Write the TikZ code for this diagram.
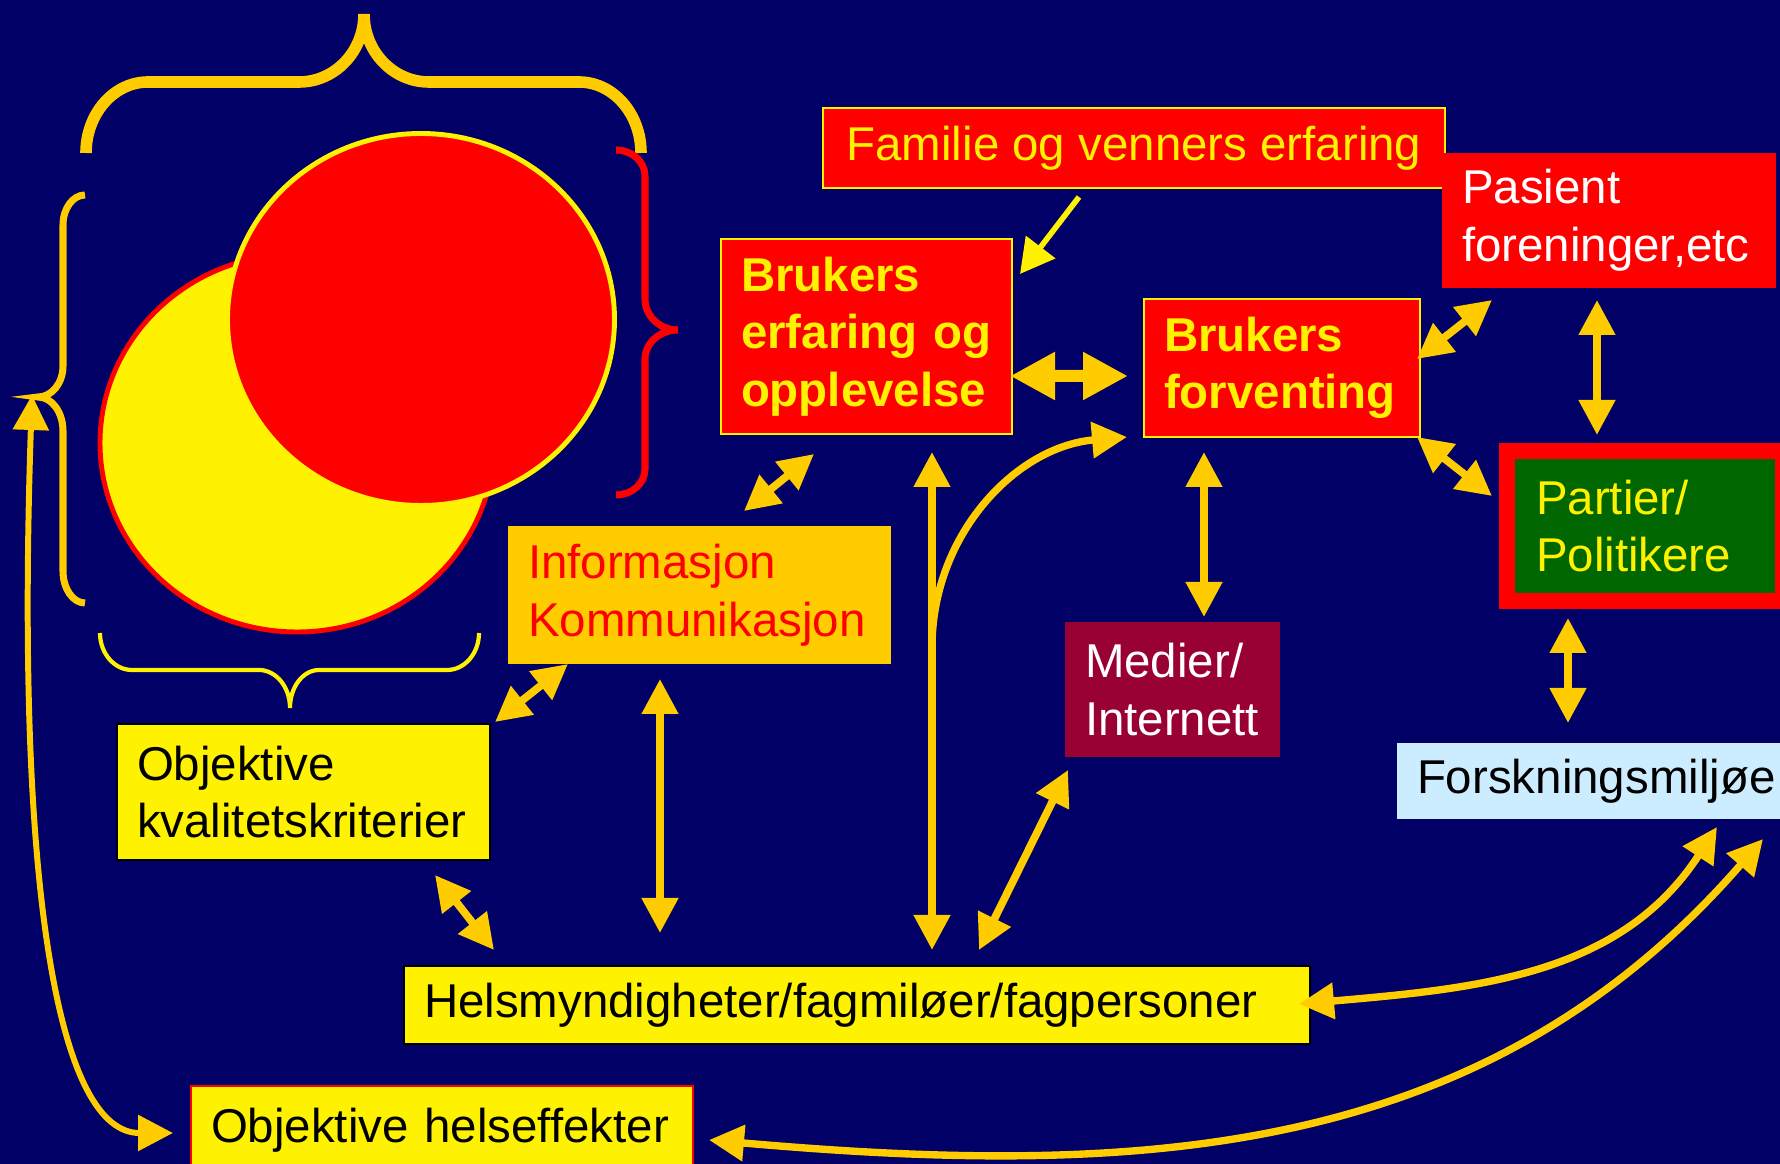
\documentclass[tikz,border=0pt]{standalone}
\usepackage{fontspec}
\setsansfont{Liberation Sans}
\RequirePackage{xcolor}
\definecolor{slidenavy}{RGB}{0,0,102}
\definecolor{slidegold}{RGB}{255,204,0}
\definecolor{partigreen}{RGB}{0,102,0}
\definecolor{mediawine}{RGB}{153,0,51}
\definecolor{forskblue}{RGB}{204,236,255}
\tikzset{every picture/.style={/utils/exec={\sffamily}}}
\usetikzlibrary{arrows.meta}
\tikzset{
  boxnode/.style={anchor=north west, outer sep=0pt, inner xsep=0.2cm, inner ysep=0pt, align=left, font=\fontsize{13.5}{16.4}\selectfont},
  boldbox/.style={boxnode, font=\fontsize{13.5}{16.4}\selectfont\bfseries},
  twoway/.style={draw=slidegold, line width=2.2pt, {Triangle[length=3.5mm,width=3.5mm]}-{Triangle[length=3.5mm,width=3.5mm]}},
  fatway/.style={draw=slidegold, line width=0.12cm, {Triangle[length=4.5mm,width=4.5mm]}-{Triangle[length=4.5mm,width=4.5mm]}},
}

\begin{document}
\begin{tikzpicture}
  \useasboundingbox (0,0) rectangle (17.8,-11.64);
  \fill [slidenavy] (0,0) rectangle (17.8,-11.64);

  \draw [fill=yellow, draw=red, line width=1.4pt] (2.97,-4.43) ellipse [x radius=1.97, y radius=1.89];
  \draw [fill=red, draw=yellow, line width=1.4pt] (4.21,-3.195) ellipse [x radius=1.935, y radius=1.86];

  % braces
  \draw [slidegold, line width=3.3pt] (0.86,-1.53) arc [start angle=180, end angle=90, x radius=0.62, y radius=0.71] -- (2.99,-0.82) arc [start angle=270, end angle=360, x radius=0.65, y radius=0.68] arc [start angle=180, end angle=270, x radius=0.65, y radius=0.68] -- (5.79,-0.82) arc [start angle=90, end angle=0, x radius=0.62, y radius=0.71];
  \draw [slidegold, line width=2pt] (0.85,-1.95) arc [start angle=90, end angle=180, x radius=0.22, y radius=0.30] -- (0.63,-3.66) arc [start angle=0, end angle=-90, x radius=0.25, y radius=0.31] coordinate (ltip) arc [start angle=90, end angle=0, x radius=0.25, y radius=0.34] -- (0.63,-5.71) arc [start angle=180, end angle=270, x radius=0.22, y radius=0.32];
  \draw [red, line width=2pt] (6.16,-1.50) arc [start angle=90, end angle=0, x radius=0.29, y radius=0.26] -- (6.45,-2.99) arc [start angle=180, end angle=270, x radius=0.33, y radius=0.31] arc [start angle=90, end angle=180, x radius=0.33, y radius=0.29] -- (6.45,-4.69) arc [start angle=0, end angle=-90, x radius=0.29, y radius=0.26];
  \draw [yellow, line width=1.2pt] (1.00,-6.33) arc [start angle=180, end angle=270, x radius=0.32, y radius=0.37] -- (2.59,-6.70) arc [start angle=90, end angle=0, x radius=0.31, y radius=0.38] arc [start angle=180, end angle=90, x radius=0.29, y radius=0.38] -- (4.47,-6.70) arc [start angle=270, end angle=360, x radius=0.32, y radius=0.37];

  \node [boxnode, fill=red, draw=yellow, line width=0.6pt, text=yellow, align=center, minimum width=6.22cm, minimum height=0.80cm] (familie) at (8.23,-1.08) {Familie og venners erfaring};
  \node [boxnode, fill=red, text=white, text width=2.94cm, minimum height=1.35cm] (pasient) at (14.42,-1.53) {Pasient\\ foreninger,etc};
  \node [boldbox, fill=red, draw=yellow, line width=0.6pt, text=yellow, text width=2.51cm, minimum height=1.95cm] (erfaring) at (7.21,-2.39) {Brukers\\ erfaring og\\ opplevelse};
  \node [boldbox, fill=red, draw=yellow, line width=0.6pt, text=yellow, text width=2.36cm, minimum height=1.38cm] (forventing) at (11.44,-2.99) {Brukers\\ forventing};
  \node [boxnode, fill=partigreen, draw=red, line width=0.16cm, text=yellow, inner xsep=0.29cm, text width=2.18cm, minimum height=1.50cm] (partier) at (15.07,-4.51) {Partier/\\ Politikere};
  \node [boxnode, fill=slidegold, text=red, text width=3.43cm, minimum height=1.38cm] (informasjon) at (5.08,-5.26) {Informasjon\\ Kommunikasjon};
  \node [boxnode, fill=mediawine, text=white, text width=1.75cm, minimum height=1.35cm] (medier) at (10.65,-6.22) {Medier/\\ Internett};
  \node [boxnode, fill=forskblue, text=black, text width=3.65cm, minimum height=0.76cm] (forsk) at (13.97,-7.43) {Forskningsmiljøe};
  \node [boxnode, fill=yellow, draw=black, line width=0.6pt, text=black, text width=3.33cm, minimum height=1.36cm] (kvalitet) at (1.17,-7.24) {Objektive\\ kvalitetskriterier};
  \node [boxnode, fill=yellow, draw=black, line width=0.6pt, text=black, text width=8.66cm, minimum height=0.78cm] (helsmyn) at (4.04,-9.66) {Helsmyndigheter/fagmiløer/fagpersoner};
  \node [boxnode, fill=yellow, draw=red, line width=0.6pt, text=black, text width=4.62cm, minimum height=0.89cm] (helseff) at (1.91,-10.86) {Objektive helseffekter};

  \coordinate (fork) at (9.32,-6.47);

  \draw [yellow, line width=1.6pt, -{Triangle[length=3.4mm,width=3.6mm]}] ([shift={(-0.55,-0.09)}]familie.south) -- ([shift={(0.08,-0.35)}]erfaring.north east);
  \draw [fatway] ([shift={(-0.02,-0.395)}]erfaring.east) -- ([shift={(-0.16,-0.08)}]forventing.west);
  \draw [twoway] ([shift={(-0.03,-0.60)}]forventing.north east) -- ([shift={(0.50,-0.12)}]pasient.south west);
  \draw [twoway] ([shift={(-0.12,-0.12)}]pasient.south) -- ([shift={(-0.48,0.16)}]partier.north);
  \draw [twoway] ([shift={(-0.03,0)}]forventing.south east) -- ([shift={(-0.15,0.30)}]partier.west);
  \draw [twoway] ([shift={(-0.78,-0.15)}]forventing.south) -- ([shift={(0.315,0.05)}]medier.north);
  \draw [twoway] ([shift={(-0.77,-0.17)}]partier.south) -- ([shift={(1.71,0.20)}]forsk.north west);
  \draw [twoway] ([shift={(2.36,0.15)}]informasjon.north west) -- ([shift={(0.93,-0.20)}]erfaring.south west);
  \draw [twoway] ([shift={(1.52,-0.15)}]informasjon.south west) -- ([shift={(2.56,0.33)}]helsmyn.north west);
  \draw [twoway] ([shift={(0.05,0.02)}]kvalitet.north east) -- ([shift={(0.60,0)}]informasjon.south west);
  \draw [twoway] ([shift={(-0.55,-0.15)}]kvalitet.south east) -- ([shift={(0.90,0.16)}]helsmyn.north west);
  \draw [twoway] ([shift={(-0.80,-0.18)}]erfaring.south east) -- ([shift={(5.28,0.16)}]helsmyn.north west);
  \draw [twoway] ([shift={(0.03,-0.13)}]medier.south west) -- ([shift={(5.75,0.16)}]helsmyn.north west);
  \draw [draw=slidegold, line width=2.1pt, -{Triangle[length=3.5mm,width=3.5mm]}] (fork) to[out=90, in=185] ([shift={(-0.17,0)}]forventing.south west);
  \draw [twoway, line width=2.1pt] ([shift={(-0.11,0.01)}]helsmyn.east) to[out=5, in=237] ([shift={(3.20,-0.08)}]forsk.south west);
  \draw [twoway, line width=2.1pt] ([shift={(0.16,-0.095)}]helseff.east) to[out=-5, in=229] ([shift={(3.66,-0.20)}]forsk.south west);
  \draw [twoway, line width=1.7pt] ([shift={(-0.06,0.02)}]ltip) .. controls (0.15,-9.0) and (0.6,-11.33) .. ([shift={(-0.18,-0.025)}]helseff.west);

\end{tikzpicture}
\end{document}
